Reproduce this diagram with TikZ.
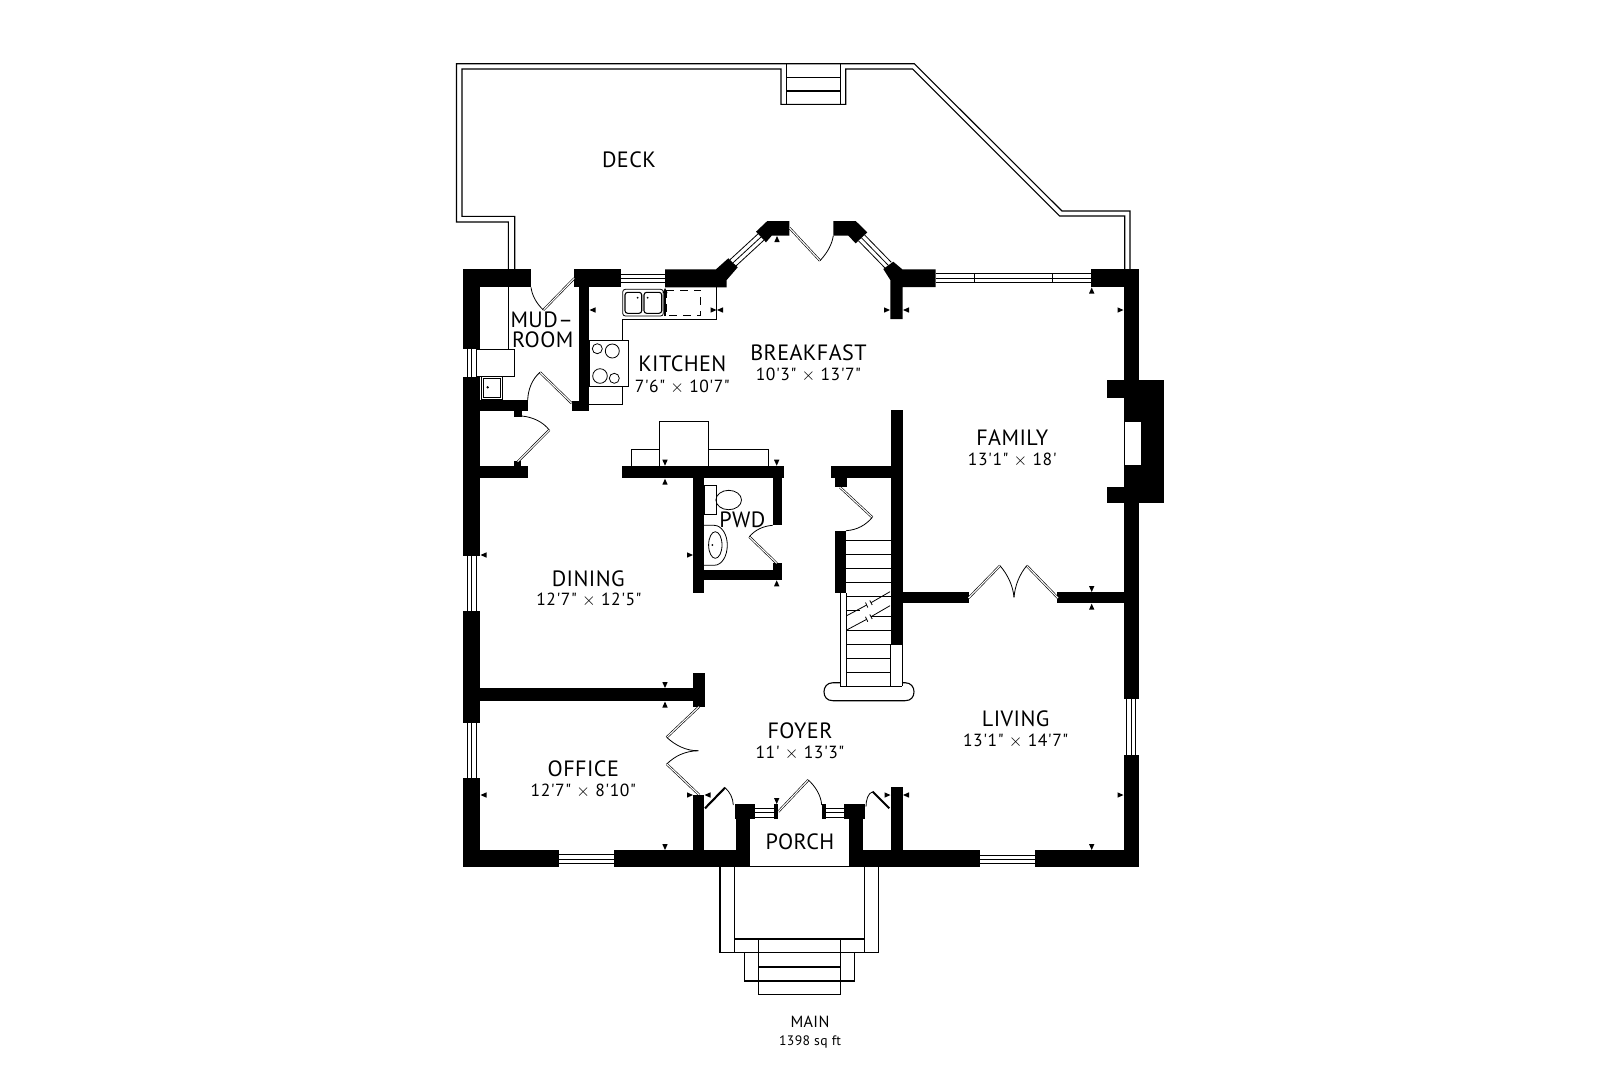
\documentclass[tikz,border=0pt]{standalone}
\usepackage{fontspec}
\setmainfont{PT Sans}
\newfontfamily\namefont[LetterSpace=2]{PT Sans}
\newfontfamily\sizefont[LetterSpace=3]{PT Sans}
\tikzset{
	x=0.02cm,y=-0.02cm,
	wall/.style={fill=black},
	thinline/.style={line width=0.022cm,draw=black},
	hairline/.style={line width=0.016cm,draw=black},
	doorleaf/.style={line width=0.012cm,draw=black,double=white,double distance=0.022cm},
	heavyleaf/.style={line width=0.042cm,draw=black},
	tick/.style={fill=black},
	roomname/.style={font=\namefont\fontsize{12.6}{14}\selectfont,inner sep=0pt},
	roomsize/.style={font=\sizefont\fontsize{10}{12}\selectfont,inner sep=0pt},
	levelname/.style={font=\namefont\fontsize{9.2}{11}\selectfont,inner sep=0pt},
	levelsize/.style={font=\sizefont\fontsize{7.8}{10}\selectfont,inner sep=0pt},
}
\begin{document}
\begin{tikzpicture}
	\fill[white] (0,0) rectangle (1620,1080);

	% Deck railing, outer and inner line
	\draw[thinline] (508.4,269) -- (508.4,222) -- (456.5,222) -- (456.5,63.7) -- (914.3,63.7) -- (1062,211) -- (1130,211) -- (1130,269);
	\draw[thinline] (514.7,269) -- (514.7,216.3) -- (462,216.3) -- (462,69) -- (781,69) -- (781,104.3) -- (845.7,104.3) -- (845.7,69) -- (912.7,69) -- (1059.7,216) -- (1124.7,216) -- (1124.7,269);

	% Deck steps
	\draw[thinline] (786.3,63.7) -- (786.3,104.3);
	\draw[thinline] (840.3,63.7) -- (840.3,104.3);
	\draw[thinline] (786.3,77.3) -- (840.3,77.3);
	\draw[thinline] (786.3,91) -- (840.3,91);

	% Outer walls, left side
	\fill[wall] (463.3,269.3) rectangle (531,287.3);
	\fill[wall] (463.3,269.3) rectangle (480.3,349.3);
	\fill[wall] (463.3,376.7) rectangle (480.3,556);
	\fill[wall] (463.3,610.7) rectangle (480.3,723.3);
	\fill[wall] (463.3,778.3) rectangle (480.3,867.3);

	% Outer walls, bottom side
	\fill[wall] (463.3,850.3) rectangle (559.3,867.3);
	\fill[wall] (614,850.3) rectangle (750,867.3);
	\fill[wall] (849,850.3) rectangle (980,867.3);
	\fill[wall] (1035,850.3) rectangle (1138.7,867.3);

	% Outer walls, right side and fireplace
	\fill[wall] (1123.7,269.3) rectangle (1138.7,699.3);
	\fill[wall] (1123.7,754.7) rectangle (1138.7,867.3);
	\fill[wall] (1091,269.3) rectangle (1138.7,287);
	\fill[wall] (1123.7,380) rectangle (1164.3,502.7);
	\fill[wall] (1106.7,380) rectangle (1124,398.3);
	\fill[wall] (1106.7,486.7) rectangle (1124,502.7);
	\fill[white] (1124,422) rectangle (1140.7,464.7);
	\draw[hairline] (1124,422) -- (1124,464.7);

	% Top walls and bay
	\fill[wall] (574.3,269.3) rectangle (621,287.3);
	\fill[wall] (665,269.3) -- (716,269.3) -- (728.3,258.3) -- (737.7,267.3) -- (726.7,280) -- (726.7,287.3) -- (665,287.3) -- cycle;
	\fill[wall] (756,231.7) -- (767.3,221) -- (789.3,221) -- (789.3,235.7) -- (771.7,235.7) -- (766,242.3) -- cycle;
	\fill[wall] (833.3,221) -- (855.7,221) -- (867.3,232.3) -- (855.7,243.3) -- (848.3,235.7) -- (833.3,235.7) -- cycle;
	\fill[wall] (893.3,261.7) -- (902.3,269.3) -- (935.7,269.3) -- (935.7,287) -- (902.7,287) -- (902.7,319) -- (890.3,319) -- (890.3,280) -- (883.3,269) -- cycle;

	% Bay door
	\draw[doorleaf] (789.3,227.7) -- (820,260.7);
	\draw[hairline] (820,260.7) .. controls (828,252) and (832,244) .. (833.3,235.7);

	% Windows
	\draw[hairline] (621,274) -- (665,274) (621,278.3) -- (665,278.3) (621,282.7) -- (665,282.7);
	\draw[hairline] (730.1,259.6) -- (758.1,233.8) (733,262.8) -- (761,237) (735.9,266) -- (763.9,240.2);
	\draw[hairline] (864.5,234.8) -- (891.3,262.3) (861.5,237.8) -- (888.3,265.3) (858.5,240.8) -- (885.3,268.3);
	\draw[hairline] (935.7,273.7) -- (1091,273.7) (935.7,278.3) -- (1091,278.3) (935.7,282.7) -- (1091,282.7);
	\draw[hairline] (974,273.7) -- (974,282.7) (1052.7,273.7) -- (1052.7,282.7);
	\draw[hairline] (467.3,349.3) -- (467.3,376.7) (471.7,349.3) -- (471.7,376.7) (476,349.3) -- (476,376.7);
	\draw[hairline] (467.3,556) -- (467.3,610.7) (471.7,556) -- (471.7,610.7) (476,556) -- (476,610.7);
	\draw[hairline] (467.3,723.3) -- (467.3,778.3) (471.7,723.3) -- (471.7,778.3) (476,723.3) -- (476,778.3);
	\draw[hairline] (559.3,854.7) -- (614,854.7) (559.3,859) -- (614,859) (559.3,863) -- (614,863);
	\draw[hairline] (980,855) -- (1035,855) (980,859) -- (1035,859) (980,863) -- (1035,863);
	\draw[hairline] (1126.7,699.3) -- (1126.7,754.7) (1131,699.3) -- (1131,754.7) (1135.7,699.3) -- (1135.7,754.7);

	% Mudroom walls and fittings
	\fill[wall] (579,287) rectangle (589.3,411.3);
	\fill[wall] (571.7,400.7) rectangle (589.3,411.3);
	\fill[wall] (480,400.3) rectangle (527.7,411.3);
	\fill[wall] (514.3,411) rectangle (521.7,416.7);
	\fill[wall] (514.3,460.7) rectangle (521,466.7);
	\fill[wall] (480,466.4) rectangle (528.3,478.3);
	\draw[hairline] (508.7,287) -- (508.7,349.3);
	\draw[hairline] (476,349.3) rectangle (514.3,376.3);
	\draw[hairline,double=white,double distance=0.02cm] (482.7,377.3) rectangle (501.7,398.7);
	\fill (487.7,387.3) circle (1.3);

	% Mudroom and closet doors
	\draw[doorleaf] (574.3,278.3) -- (543.3,310);
	\draw[hairline] (543.3,310) .. controls (536,303) and (532,295) .. (531,287.3);
	\draw[doorleaf] (571.7,403.3) -- (540,372.3);
	\draw[hairline] (540,372.3) .. controls (532,379) and (528,390) .. (527.7,400);
	\draw[hairline] (521.7,416) .. controls (533,417) and (543,422) .. (549.3,430);
	\draw[doorleaf] (549.3,430) -- (517.7,461.7);

	% Kitchen counter and stove
	\draw[hairline] (716.7,287) -- (716.7,319) -- (622.7,319) -- (622.7,340);
	\draw[hairline] (622.7,386.7) -- (622.7,404) -- (589.3,404);
	\draw[hairline] (589.3,340) rectangle (628.3,386.7);
	\draw[hairline] (597.3,348.7) circle (5);
	\draw[hairline] (612.3,351) circle (7);
	\draw[hairline] (600,376) circle (7.3);
	\draw[hairline] (614.3,378.3) circle (5);

	% Kitchen sink
	\draw[hairline,rounded corners=1.5] (622.7,289.3) rectangle (663.3,316);
	\draw[thinline,rounded corners=1.5] (625,292.3) rectangle (641.7,313.3);
	\draw[thinline,rounded corners=1.5] (644,292.3) rectangle (661.7,313.3);
	\fill (637.7,297.7) circle (1);
	\fill (647.7,297.7) circle (1);
	\draw[thinline] (665,316) -- (665,292);
	\fill (662.5,293) -- (665,288) -- (667.5,293) -- cycle;
	\draw[hairline,dash pattern=on 4.5pt off 3.4pt] (666.7,290) rectangle (700.7,315);

	% Cabinets above the dividing wall
	\draw[hairline] (631.7,466) -- (631.7,449) -- (659.3,449);
	\draw[hairline] (659.3,466) -- (659.3,421) -- (708.7,421) -- (708.7,466);
	\draw[hairline] (708.7,449) -- (768.7,449) -- (768.7,466);

	% Powder room walls
	\fill[wall] (622,466) rectangle (784.3,478);
	\fill[wall] (693.3,478) rectangle (704,593.3);
	\fill[wall] (772.7,478) rectangle (781.7,525.3);
	\fill[wall] (772.7,563.3) rectangle (781.7,580);
	\fill[wall] (704,570) rectangle (781.7,580);

	% Powder room door and fixtures
	\draw[doorleaf] (776.7,563.3) -- (749.3,536.7);
	\draw[hairline] (749.3,536.7) .. controls (755,530) and (763,526) .. (772.7,525.3);
	\draw[hairline] (704,485.3) rectangle (716,514.3);
	\draw[hairline] (728.7,500) ellipse (12.8 and 9.7);
	\draw[hairline] (704,525.3) -- (714,525.3) .. controls (722,525.3) and (727.3,535) .. (727.3,545) .. controls (727.3,556) and (722,565.3) .. (714,565.3) -- (704,565.3);
	\draw[hairline] (715.3,545) ellipse (6.7 and 13.3);
	\fill (712.3,545) circle (1);

	% Stair walls and closet door
	\fill[wall] (890.7,410) rectangle (903,645);
	\fill[wall] (831,466) rectangle (890.7,478);
	\fill[wall] (834.7,478) rectangle (846.7,487.3);
	\fill[wall] (834.7,530.7) rectangle (846,593);
	\draw[doorleaf] (840,487.3) -- (872.3,517.3);
	\draw[hairline] (872.3,517.3) .. controls (866,525) and (857,530) .. (846,530.7);

	% Stair treads and break line
	\draw[hairline] (846,540.7) -- (890.7,540.7) (846,554.7) -- (890.7,554.7) (846,568.7) -- (890.7,568.7) (846,582.3) -- (890.7,582.3) (846,596) -- (890.7,596);
	\draw[hairline] (846,610) -- (860,610) (871,616.7) -- (890.7,616.7);
	\draw[hairline] (846,630.7) -- (890.7,630.7) (846,644.7) -- (890.7,644.7) (846,658.7) -- (890.7,658.7) (846,672.7) -- (890.7,672.7);
	\draw[hairline] (846.7,615.7) -- (866.7,605) (871,602.7) -- (890,591.7);
	\draw[hairline] (846.7,630) -- (866.7,619.3) (871,616.7) -- (890,605.7);
	\draw[hairline] (865.5,602.5) -- (867.8,607.5) (869.8,600.5) -- (872.2,605);
	\draw[hairline] (865.5,616.8) -- (867.8,621.8) (869.8,614.5) -- (872.2,619);
	\draw[hairline] (840,593) -- (840,686) (846,593) -- (846,686);
	\draw[hairline] (890.7,645) -- (890.7,686) (902,645) -- (902,686);
	\draw[hairline] (840,686) -- (902,686);
	\draw[thinline] (840,682.7) -- (833,682.7) .. controls (827,682.7) and (824,687) .. (824,691.7) .. controls (824,697) and (827,700.7) .. (833,700.7) -- (905,700.7) .. controls (911,700.7) and (914,697) .. (914,691.7) .. controls (914,687) and (911,682.7) .. (905,682.7) -- (902,682.7);

	% Wall between family and living, bifold doors
	\fill[wall] (903,592.3) rectangle (969,603.3);
	\fill[wall] (1057.3,592.3) rectangle (1124,603.3);
	\draw[doorleaf] (968.5,598) -- (1000,565.7);
	\draw[hairline] (1000,565.7) .. controls (1008,575) and (1013,586) .. (1014,597.3);
	\draw[doorleaf] (1058,598) -- (1026.7,565.7);
	\draw[hairline] (1026.7,565.7) .. controls (1019,575) and (1015,586) .. (1014,597.3);

	% Wall between dining and office, bifold doors
	\fill[wall] (480,688.3) rectangle (693.3,701);
	\fill[wall] (693.3,673.3) rectangle (704.7,706.7);
	\draw[doorleaf] (699,706.7) -- (666.7,737.3);
	\draw[hairline] (666.7,737.3) .. controls (675,745) and (686,751) .. (698.3,750.7);
	\draw[hairline] (666.7,764) .. controls (675,756) and (685,751) .. (698.3,750.7);
	\draw[doorleaf] (666.7,764) -- (699.3,795);

	% Walls around the porch
	\fill[wall] (693.3,795) rectangle (704,851);
	\fill[wall] (736,804.3) rectangle (750,851);
	\fill[wall] (735,804.3) rectangle (755.3,819);
	\fill[wall] (774,804.3) rectangle (778.3,819);
	\fill[wall] (821.7,804.3) rectangle (825.7,819);
	\fill[wall] (844,804.3) rectangle (865,819);
	\fill[wall] (849,804.3) rectangle (863.3,851);
	\fill[wall] (890.7,787.3) rectangle (902.7,851);
	\draw[hairline] (750,866.7) -- (849,866.7);

	% Porch windows and doors
	\draw[hairline] (755.3,808.3) -- (774,808.3) (755.3,812.7) -- (774,812.7) (755.3,817.3) -- (774,817.3);
	\draw[hairline] (825.7,808.3) -- (844,808.3) (825.7,812.7) -- (844,812.7) (825.7,817.3) -- (844,817.3);
	\draw[heavyleaf] (705,808.3) -- (725,787.7);
	\draw[hairline] (725,787.7) .. controls (730,792) and (733,798) .. (733.3,805);
	\draw[doorleaf] (778.3,811.7) -- (808.3,780);
	\draw[hairline] (808.3,780) .. controls (815,786) and (821,795) .. (821.7,805);
	\draw[heavyleaf] (889.3,808.3) -- (872.7,791.7);
	\draw[hairline] (872.7,791.7) .. controls (868,793) and (866,800) .. (866,806.7);

	% Front stoop and steps
	\draw[thinline] (720,867) -- (720,952.7) -- (878.7,952.7) -- (878.7,867);
	\draw[thinline] (734.3,867) -- (734.3,952.7);
	\draw[thinline] (864.7,867) -- (864.7,952.7);
	\draw[thinline] (734.3,939) -- (864.7,939);
	\draw[thinline] (744.7,952.7) -- (744.7,981) -- (854.3,981) -- (854.3,952.7);
	\draw[thinline] (758.3,939) -- (758.3,994.7) -- (840.3,994.7) -- (840.3,939);
	\draw[thinline] (758.3,967) -- (840.3,967);

	% Dimension ticks, tip upwards
	\fill[tick] (777,236) -- (779.7,242) -- (774.3,242) -- cycle;
	\fill[tick] (1091.7,287.5) -- (1094.4,293.5) -- (1089,293.5) -- cycle;
	\fill[tick] (665,478.7) -- (667.7,484.7) -- (662.3,484.7) -- cycle;
	\fill[tick] (776.7,580.3) -- (779.4,586.3) -- (774,586.3) -- cycle;
	\fill[tick] (665,701.5) -- (667.7,707.5) -- (662.3,707.5) -- cycle;
	\fill[tick] (1091.7,603.7) -- (1094.4,609.7) -- (1089,609.7) -- cycle;

	% Dimension ticks, tip downwards
	\fill[tick] (665,465.7) -- (667.7,459.7) -- (662.3,459.7) -- cycle;
	\fill[tick] (776.7,465.7) -- (779.4,459.7) -- (774,459.7) -- cycle;
	\fill[tick] (665,688) -- (667.7,682) -- (662.3,682) -- cycle;
	\fill[tick] (665,850) -- (667.7,844) -- (662.3,844) -- cycle;
	\fill[tick] (776.7,804) -- (779.4,798) -- (774,798) -- cycle;
	\fill[tick] (1091.7,592) -- (1094.4,586) -- (1089,586) -- cycle;
	\fill[tick] (1091.7,850) -- (1094.4,844) -- (1089,844) -- cycle;

	% Dimension ticks, tip to the left
	\fill[tick] (589.5,310) -- (595.5,307.3) -- (595.5,312.7) -- cycle;
	\fill[tick] (717,310) -- (723,307.3) -- (723,312.7) -- cycle;
	\fill[tick] (903,310) -- (909,307.3) -- (909,312.7) -- cycle;
	\fill[tick] (480.5,555) -- (486.5,552.3) -- (486.5,557.7) -- cycle;
	\fill[tick] (480.5,795) -- (486.5,792.3) -- (486.5,797.7) -- cycle;
	\fill[tick] (704.5,795) -- (710.5,792.3) -- (710.5,797.7) -- cycle;
	\fill[tick] (903,795) -- (909,792.3) -- (909,797.7) -- cycle;

	% Dimension ticks, tip to the right
	\fill[tick] (716.5,310) -- (710.5,307.3) -- (710.5,312.7) -- cycle;
	\fill[tick] (890,310) -- (884,307.3) -- (884,312.7) -- cycle;
	\fill[tick] (1123.5,310) -- (1117.5,307.3) -- (1117.5,312.7) -- cycle;
	\fill[tick] (693,555) -- (687,552.3) -- (687,557.7) -- cycle;
	\fill[tick] (693,795) -- (687,792.3) -- (687,797.7) -- cycle;
	\fill[tick] (890.5,795) -- (884.5,792.3) -- (884.5,797.7) -- cycle;
	\fill[tick] (1123.5,795) -- (1117.5,792.3) -- (1117.5,797.7) -- cycle;

	% Room labels
	\node[roomname] (deck) at (629,160) {DECK};
	\node[roomname] (mudtop) at (541.7,319.3) {MUD–};
	\node[roomname] (mudbottom) at (542.7,339.3) {ROOM};
	\node[roomname] (kitchen) at (682.3,364) {KITCHEN};
	\node[roomsize] (kitchensize) at (682.3,386.7) {7'6" $\times$ 10'7"};
	\node[roomname] (breakfast) at (808.5,352.7) {BREAKFAST};
	\node[roomsize] (breakfastsize) at (808.5,375) {10'3" $\times$ 13'7"};
	\node[roomname] (family) at (1012.3,437.3) {FAMILY};
	\node[roomsize] (familysize) at (1012.3,460) {13'1" $\times$ 18'};
	\node[roomname] (pwd) at (742.3,520) {PWD};
	\node[roomname] (dining) at (588.3,578.3) {DINING};
	\node[roomsize] (diningsize) at (589,600) {12'7" $\times$ 12'5"};
	\node[roomname] (living) at (1015.7,719) {LIVING};
	\node[roomsize] (livingsize) at (1015.7,741) {13'1" $\times$ 14'7"};
	\node[roomname] (foyer) at (800,731) {FOYER};
	\node[roomsize] (foyersize) at (800,753.3) {11' $\times$ 13'3"};
	\node[roomname] (office) at (583.3,768.3) {OFFICE};
	\node[roomsize] (officesize) at (583.3,791) {12'7" $\times$ 8'10"};
	\node[roomname] (porch) at (800,841.7) {PORCH};
	\node[levelname] (mainlevel) at (810,1021.7) {MAIN};
	\node[levelsize] (mainsize) at (810,1041.7) {1398 sq ft};
\end{tikzpicture}
\end{document}
